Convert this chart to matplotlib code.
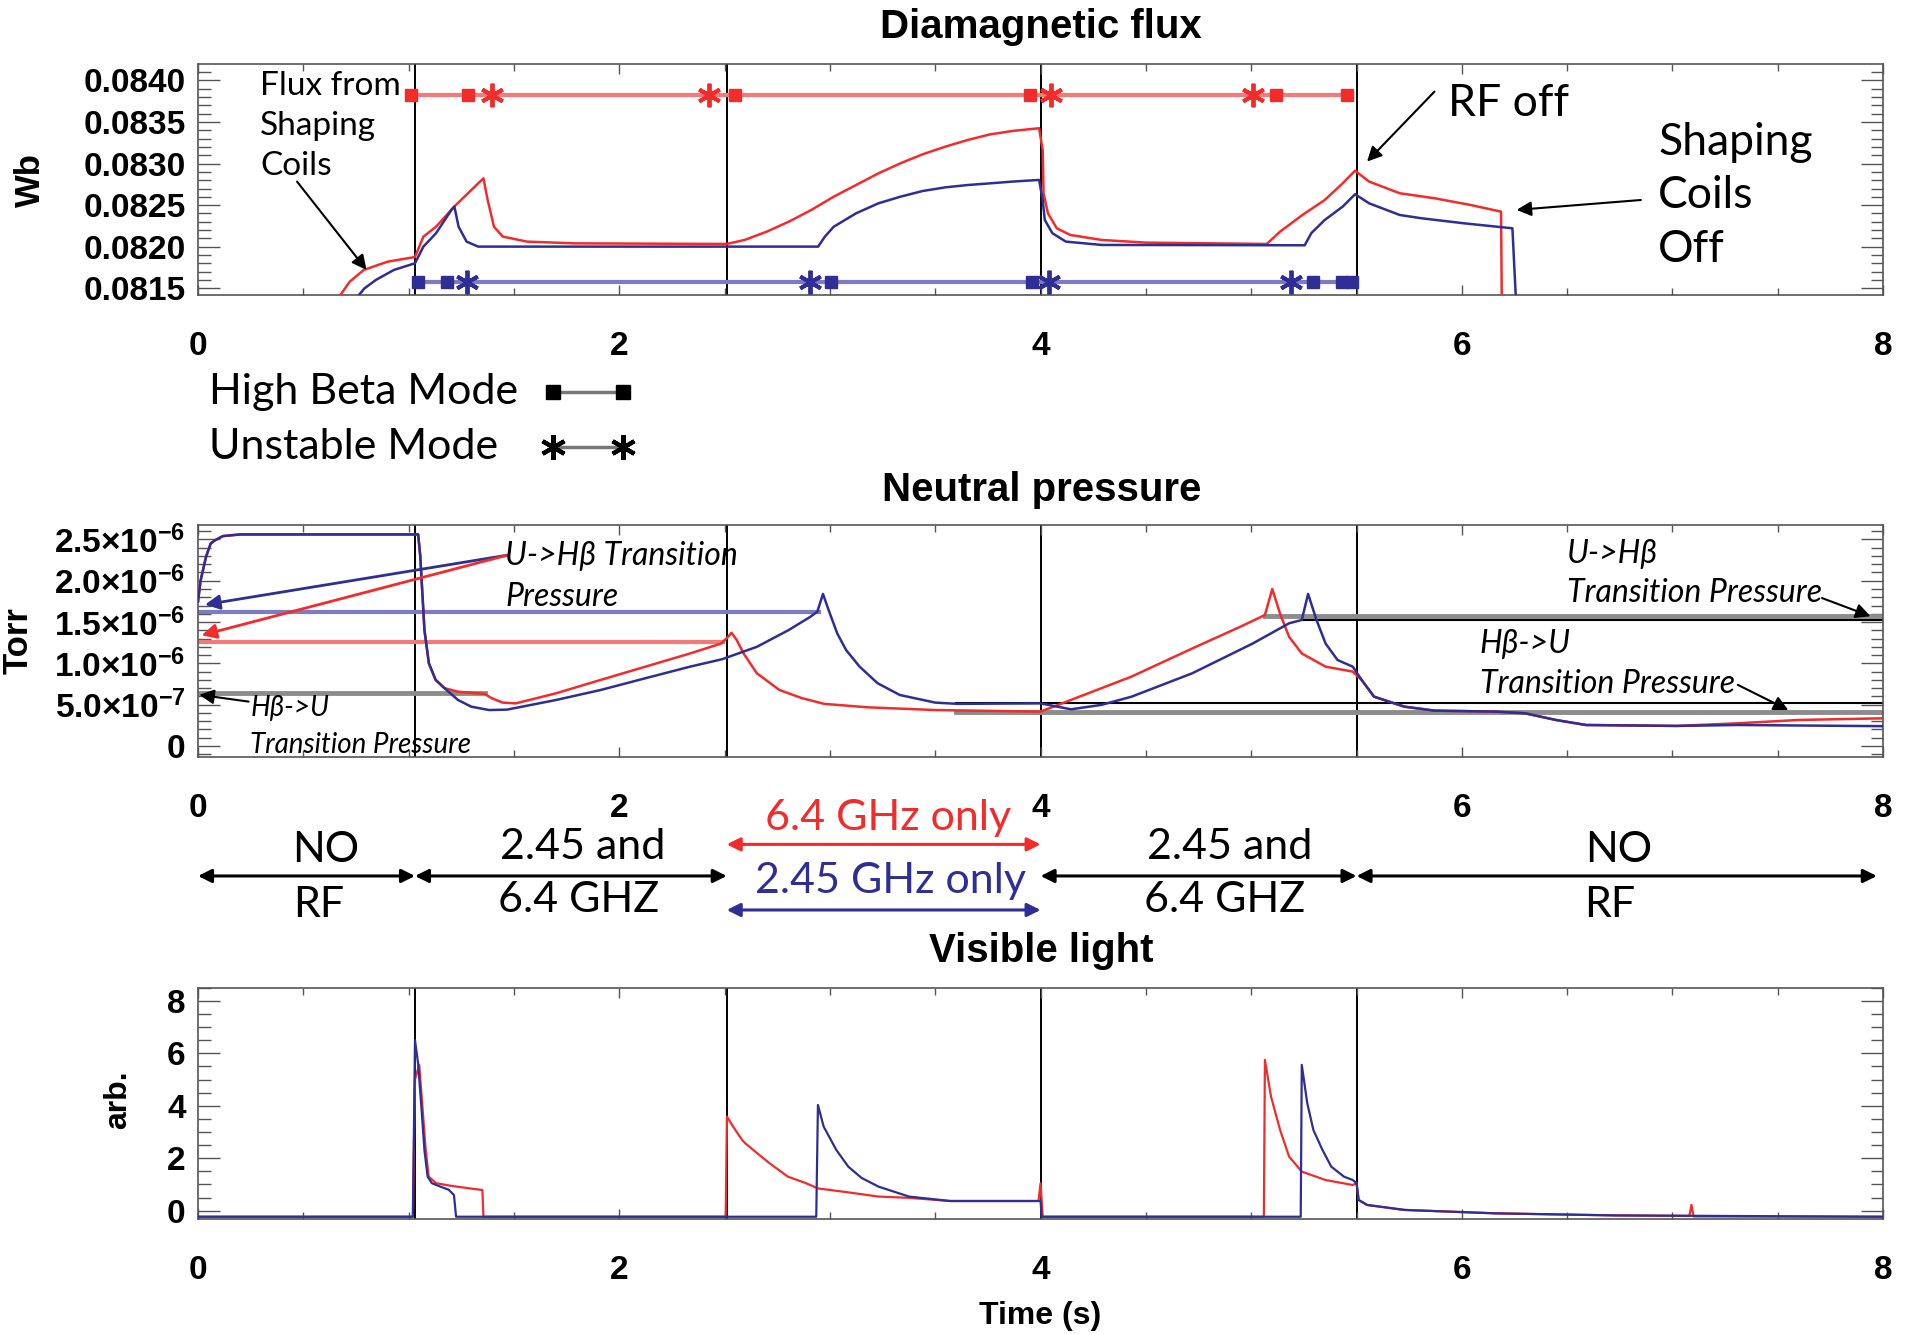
import numpy as np
import matplotlib
matplotlib.use('Agg')
import matplotlib.pyplot as plt
from matplotlib.lines import Line2D
from matplotlib.ticker import MultipleLocator

plt.rcParams['font.family'] = ['Liberation Sans', 'DejaVu Sans']
plt.rcParams['mathtext.fontset'] = 'custom'
plt.rcParams['mathtext.rm'] = 'Liberation Sans:bold'
plt.rcParams['mathtext.default'] = 'rm'

RED = '#f22b2b'
BLUE = '#2e2e96'
FRAME = '#555555'
NOTE_FONT = ['Lato', 'DejaVu Sans']

# RF switching times (s)
rf_switch = [1.03, 2.51, 4.0, 5.5]

# diamagnetic flux (Wb)
flux_red_t = [0.60, 0.67, 0.72, 0.787, 0.90, 1.03, 1.07, 1.13, 1.217, 1.33, 1.355, 1.375, 1.405,
              1.447, 1.562, 1.79, 2.51, 2.595, 2.70, 2.806, 2.912, 3.018, 3.124, 3.23, 3.335, 3.44,
              3.548, 3.654, 3.76, 3.866, 3.993, 4.01, 4.014, 4.035, 4.077, 4.141, 4.29, 4.50,
              5.074, 5.137, 5.243, 5.349, 5.434, 5.493, 5.56, 5.705, 5.87, 6.04, 6.186, 6.19]
flux_red = [0.08125, 0.08140, 0.08158, 0.081722, 0.081821, 0.081877, 0.082122, 0.082241, 0.082484,
            0.082762, 0.082822, 0.082562, 0.082241, 0.082122, 0.082062, 0.082041, 0.082034,
            0.082082, 0.082182, 0.082303, 0.082443, 0.082602, 0.082742, 0.082882, 0.083003,
            0.083111, 0.083203, 0.083283, 0.08335, 0.083391, 0.083424, 0.083162, 0.082643,
            0.082402, 0.082222, 0.082142, 0.082082, 0.08205, 0.082034, 0.082182, 0.082382,
            0.082562, 0.082762, 0.082914, 0.082783, 0.082643, 0.082583, 0.082503, 0.082422, 0.08120]
flux_blue_t = [0.70, 0.757, 0.79, 0.844, 0.93, 1.03, 1.07, 1.13, 1.203, 1.217, 1.237, 1.275, 1.33,
               2.944, 2.976, 3.018, 3.124, 3.23, 3.335, 3.44, 3.548, 3.654, 3.76, 3.866, 3.993,
               4.01, 4.02, 4.056, 4.12, 4.29, 5.254, 5.285, 5.349, 5.434, 5.493, 5.56, 5.705,
               5.81, 6.01, 6.24, 6.26]
flux_blue = [0.08125, 0.08140, 0.08150, 0.081601, 0.081722, 0.081802, 0.082002, 0.082163, 0.082443,
             0.082484, 0.082241, 0.082062, 0.082002, 0.082002, 0.082122, 0.082241, 0.082402,
             0.082522, 0.082602, 0.08267, 0.082714, 0.082742, 0.082762, 0.082783, 0.082803,
             0.082562, 0.082322, 0.082163, 0.082062, 0.082022, 0.082018, 0.082163, 0.082322,
             0.082482, 0.082631, 0.082522, 0.082382, 0.082342, 0.082282, 0.082222, 0.08120]

# mode markers on the flux plot
mode_red_level = 0.083823
mode_blue_level = 0.081582
hibeta_red_t = [1.01, 1.284, 2.547, 3.95, 5.12, 5.453]
unstable_red_t = [1.396, 2.426, 4.05, 5.007]
hibeta_blue_t = [1.045, 1.18, 3.007, 3.96, 5.295, 5.43, 5.48]
unstable_blue_t = [1.275, 2.905, 4.04, 5.19]

# neutral pressure (1e-6 Torr)
press_red_t = [0.0, 0.012, 0.038, 0.06, 0.081, 0.118, 0.2, 1.045, 1.055, 1.075, 1.096, 1.128, 1.17,
               1.234, 1.361, 1.393, 1.446, 1.509, 1.70, 1.912, 2.124, 2.336, 2.484, 2.516, 2.533,
               2.558, 2.59, 2.653, 2.76, 2.866, 2.972, 3.18, 3.50, 4.0, 4.144, 4.432, 4.72, 4.95,
               5.065, 5.10, 5.137, 5.18, 5.24, 5.353, 5.482, 5.524, 5.583, 5.727, 5.87, 6.158,
               6.30, 6.446, 6.59, 7.02, 7.31, 7.60, 8.0]
press_red = [1.75, 2.0, 2.29, 2.45, 2.49, 2.54, 2.56, 2.56, 2.3, 1.40, 1.0, 0.80, 0.70, 0.657, 0.63,
             0.58, 0.525, 0.516, 0.638, 0.80, 0.96, 1.12, 1.24, 1.32, 1.37, 1.28, 1.12, 0.88,
             0.678, 0.58, 0.51, 0.468, 0.435, 0.416, 0.557, 0.84, 1.18, 1.445, 1.585, 1.90, 1.60,
             1.32, 1.12, 0.96, 0.90, 0.80, 0.597, 0.476, 0.428, 0.416, 0.396, 0.315, 0.254,
             0.243, 0.275, 0.315, 0.335]
press_blue_t = [0.0, 0.012, 0.038, 0.06, 0.081, 0.118, 0.2, 1.045, 1.055, 1.075, 1.096, 1.128, 1.17,
                1.234, 1.297, 1.382, 1.467, 1.70, 1.912, 2.124, 2.336, 2.488, 2.653, 2.802, 2.908,
                2.94, 2.967, 2.993, 3.035, 3.077, 3.141, 3.226, 3.332, 3.50, 3.607, 4.0, 4.144,
                4.288, 4.432, 4.72, 5.007, 5.18, 5.24, 5.27, 5.31, 5.353, 5.41, 5.482, 5.524,
                5.583, 5.727, 5.87, 6.158, 6.30, 6.446, 6.59, 7.02, 7.31, 8.0]
press_blue = [1.75, 2.0, 2.29, 2.45, 2.49, 2.54, 2.56, 2.56, 2.3, 1.40, 1.0, 0.80, 0.70, 0.557,
              0.476, 0.435, 0.44, 0.557, 0.678, 0.82, 0.96, 1.05, 1.20, 1.40, 1.565, 1.626, 1.84,
              1.65, 1.36, 1.16, 0.96, 0.76, 0.617, 0.525, 0.51, 0.516, 0.444, 0.497, 0.597, 0.88,
              1.24, 1.485, 1.525, 1.84, 1.525, 1.24, 1.04, 0.96, 0.80, 0.597, 0.476, 0.428, 0.416,
              0.396, 0.315, 0.254, 0.243, 0.254, 0.24]

# transition pressure levels (1e-6 Torr) and their time spans
trans_level = [1.62, 1.263, 0.645, 1.574, 1.525, 0.516, 0.416]
trans_start = [0.0, 0.0, 0.0, 5.065, 5.24, 3.6, 3.6]
trans_end = [2.95, 2.49, 1.362, 8.0, 8.0, 8.0, 8.0]

# visible light (arb.)
light_red_t = [0.0, 1.02, 1.03, 1.05, 1.065, 1.08, 1.095, 1.13, 1.2, 1.3, 1.35, 1.355, 2.505, 2.511,
               2.54, 2.583, 2.598, 2.655, 2.713, 2.80, 2.886, 2.943, 3.087, 3.23, 3.375, 3.57, 3.99,
               4.0, 4.01, 5.06, 5.065, 5.094, 5.137, 5.18, 5.24, 5.353, 5.482, 5.50, 5.51, 5.55,
               5.727, 6.158, 6.734, 7.08, 7.09, 7.10, 8.0]
light_red = [-0.23, -0.23, 5.0, 5.56, 4.0, 2.4, 1.3, 1.05, 0.95, 0.84, 0.79, -0.23, -0.23, 3.59,
             3.21, 2.70, 2.57, 2.19, 1.81, 1.30, 1.05, 0.85, 0.70, 0.54, 0.49, 0.37, 0.37, 1.05,
             -0.23, -0.23, 5.75, 4.35, 3.08, 2.06, 1.49, 1.17, 0.98, 1.05, 0.41, 0.22, 0.03,
             -0.10, -0.18, -0.20, 0.22, -0.22, -0.23]
light_blue_t = [0.0, 1.02, 1.03, 1.045, 1.06, 1.075, 1.09, 1.11, 1.15, 1.19, 1.215, 1.225, 2.935,
                2.943, 2.97, 3.03, 3.087, 3.15, 3.23, 3.375, 3.57, 4.0, 4.005, 5.235, 5.24, 5.266,
                5.295, 5.338, 5.38, 5.44, 5.482, 5.50, 5.51, 5.55, 5.727, 6.158, 6.734, 8.0]
light_blue = [-0.23, -0.23, 6.5, 5.6, 4.0, 2.3, 1.3, 1.05, 0.92, 0.80, 0.6, -0.23, -0.23, 4.03,
              3.21, 2.32, 1.68, 1.25, 0.92, 0.54, 0.37, 0.37, -0.23, -0.23, 5.56, 4.10, 3.08,
              2.32, 1.68, 1.30, 1.17, 1.05, 0.41, 0.22, 0.03, -0.10, -0.18, -0.23]

x_ticks = [0, 2, 4, 6, 8]
flux_ticks = [0.0815, 0.0820, 0.0825, 0.0830, 0.0835, 0.0840]
press_ticks = [0, 0.5e-6, 1.0e-6, 1.5e-6, 2.0e-6, 2.5e-6]
press_labels = ['0', r'5.0$\times$10$^{-7}$', r'1.0$\times$10$^{-6}$', r'1.5$\times$10$^{-6}$',
                r'2.0$\times$10$^{-6}$', r'2.5$\times$10$^{-6}$']
light_ticks = [0, 2, 4, 6, 8]

W, H = 1568, 1098   # layout grid used for placing things on the page


def fx(x):
    return x / W


def fy(y):
    return 1 - y / H


def note(x, y, s, size, color='k', style='normal', ha='left'):
    fig.text(fx(x), fy(y), s, fontsize=size, family=NOTE_FONT, color=color,
             style=style, ha=ha, va='center', fontweight='normal')


def style_axes(ax, yticks, ylabels, yminor):
    ax.set_xlim(0, 8)
    ax.set_xticks(x_ticks, labels=[str(v) for v in x_ticks], fontweight='bold', fontsize=24)
    ax.xaxis.set_minor_locator(MultipleLocator(0.5))
    ax.set_yticks(yticks, labels=ylabels, fontweight='bold', fontsize=24)
    ax.yaxis.set_minor_locator(MultipleLocator(yminor))
    ax.tick_params(which='both', direction='in', top=True, right=True, color=FRAME, width=1)
    ax.tick_params(axis='x', which='major', length=7, pad=26)
    ax.tick_params(axis='x', which='minor', length=5)
    ax.tick_params(axis='y', which='major', length=16, pad=9)
    ax.tick_params(axis='y', which='minor', length=9)
    for sp in ax.spines.values():
        sp.set_color(FRAME)
        sp.set_linewidth(1.2)
    for t in rf_switch:
        ax.axvline(t, color='k', lw=1.4, zorder=1)


fig = plt.figure(figsize=(19.05, 13.34), dpi=100)
ax1 = fig.add_axes([fx(163), fy(243), (1550 - 163) / W, 190 / H])
ax2 = fig.add_axes([fx(163), fy(623), (1550 - 163) / W, 191 / H])
ax3 = fig.add_axes([fx(163), fy(1003), (1550 - 163) / W, 190 / H])

# --- diamagnetic flux ---
ax1.set_ylim(0.081418, 0.084191)
style_axes(ax1, flux_ticks, ['%.4f' % v for v in flux_ticks], 0.0001)
ax1.plot(flux_red_t, flux_red, color=RED, lw=1.8, zorder=3)
ax1.plot(flux_blue_t, flux_blue, color=BLUE, lw=1.8, zorder=3)

red_span = [min(hibeta_red_t + unstable_red_t), max(hibeta_red_t + unstable_red_t)]
blue_span = [min(hibeta_blue_t + unstable_blue_t), max(hibeta_blue_t + unstable_blue_t)]
ax1.plot(red_span, [mode_red_level] * 2, color='#f77a7a', lw=3, zorder=2)
ax1.plot(blue_span, [mode_blue_level] * 2, color='#7c7cc4', lw=3, zorder=2)
ax1.plot(hibeta_red_t, [mode_red_level] * len(hibeta_red_t), 's', color=RED, ms=9, zorder=4)
ax1.plot(unstable_red_t, [mode_red_level] * len(unstable_red_t), ls='none', marker=(6, 2, 0),
         color=RED, ms=17, mew=2.8, zorder=4)
ax1.plot(hibeta_blue_t, [mode_blue_level] * len(hibeta_blue_t), 's', color=BLUE, ms=9, zorder=4)
ax1.plot(unstable_blue_t, [mode_blue_level] * len(unstable_blue_t), ls='none', marker=(6, 2, 0),
         color=BLUE, ms=17, mew=2.8, zorder=4)

arrow_kw = dict(arrowstyle='-|>', color='k', lw=1.5, mutation_scale=22, shrinkA=0, shrinkB=0)
ax1.annotate('', xy=(0.80, 0.081722), xytext=(0.47, 0.082783), arrowprops=arrow_kw)
ax1.annotate('', xy=(5.55, 0.083024), xytext=(5.87, 0.083864), arrowprops=arrow_kw)
ax1.annotate('', xy=(6.26, 0.082443), xytext=(6.85, 0.082562), arrowprops=arrow_kw)

note(214, 71, 'Flux from', 24)
note(214, 104, 'Shaping', 24)
note(214, 137, 'Coils', 24)
note(1192, 85, 'RF off', 32)
note(1365, 117, 'Shaping', 32)
note(1365, 161, 'Coils', 32)
note(1365, 205, 'Off', 32)

# legend for the mode markers
note(172, 323, 'High Beta Mode', 31)
note(172, 368, 'Unstable Mode', 31)
fig.add_artist(Line2D([fx(455), fx(513)], [fy(323)] * 2, transform=fig.transFigure,
                      color='#777777', lw=2.5, marker='s', ms=10, mfc='k', mec='k'))
fig.add_artist(Line2D([fx(455), fx(513)], [fy(368)] * 2, transform=fig.transFigure,
                      color='#777777', lw=2.5, marker=(6, 2, 0), ms=18, mew=3, mfc='k', mec='k'))

# --- neutral pressure ---
ax2.set_ylim(-0.132e-6, 2.676e-6)
style_axes(ax2, press_ticks, press_labels, 0.1e-6)
trans_colors = ['#7c7cc4', '#f47a7a', '#8c8c8c', '#8c8c8c', 'k', 'k', '#8c8c8c']
trans_widths = [3, 3, 3.5, 3.5, 1.5, 1.5, 3.5]
for lev, t0, t1, c, w in zip(trans_level, trans_start, trans_end, trans_colors, trans_widths):
    ax2.plot([t0, t1], [lev * 1e-6] * 2, color=c, lw=w, zorder=2)
ax2.plot(press_red_t, np.array(press_red) * 1e-6, color=RED, lw=1.8, zorder=3)
ax2.plot(press_blue_t, np.array(press_blue) * 1e-6, color=BLUE, lw=1.8, zorder=3)

ax2.annotate('', xy=(0.033, 1.71e-6), xytext=(1.47, 2.31e-6),
             arrowprops=dict(arrow_kw, color=BLUE, lw=2))
ax2.annotate('', xy=(0.017, 1.34e-6), xytext=(1.47, 2.31e-6),
             arrowprops=dict(arrow_kw, color=RED, lw=2))
ax2.annotate('', xy=(0.006, 0.62e-6), xytext=(0.24, 0.537e-6), arrowprops=arrow_kw)
ax2.annotate('', xy=(7.94, 1.57e-6), xytext=(7.71, 1.79e-6), arrowprops=arrow_kw,
             annotation_clip=False)
ax2.annotate('', xy=(7.55, 0.435e-6), xytext=(7.31, 0.74e-6), arrowprops=arrow_kw)

note(416, 458, 'U->H\u03b2 Transition', 23, style='italic')
note(416, 491, 'Pressure', 23, style='italic')
note(206, 583, 'H\u03b2->U', 20, style='italic')
note(206, 613, 'Transition Pressure', 20, style='italic')
note(1290, 456, 'U->H\u03b2', 23, style='italic')
note(1290, 488, 'Transition Pressure', 23, style='italic')
note(1218, 530, 'H\u03b2->U', 23, style='italic')
note(1218, 563, 'Transition Pressure', 23, style='italic')

# RF source bands between the pressure and light plots
band_kw = dict(arrowstyle='<|-|>', lw=2.2, mutation_scale=20, shrinkA=0, shrinkB=0)
black_bands = [(0.0, rf_switch[0]), (rf_switch[0], rf_switch[1]),
               (rf_switch[2], rf_switch[3]), (rf_switch[3], 7.97)]
for t0, t1 in black_bands:
    ax2.annotate('', xy=(t1, fy(721)), xycoords=('data', 'figure fraction'),
                 xytext=(t0, fy(721)), textcoords=('data', 'figure fraction'),
                 arrowprops=dict(band_kw, color='k'), annotation_clip=False)
for yb, c in [(695, RED), (749, BLUE)]:
    ax2.annotate('', xy=(rf_switch[2], fy(yb)), xycoords=('data', 'figure fraction'),
                 xytext=(rf_switch[1], fy(yb)), textcoords=('data', 'figure fraction'),
                 arrowprops=dict(band_kw, color=c), annotation_clip=False)

note(731, 673, '6.4 GHz only', 31, color=RED, ha='center')
note(733, 725, '2.45 GHz only', 31, color=BLUE, ha='center')
note(268, 700, 'NO', 31, ha='center')
note(262, 745, 'RF', 31, ha='center')
note(480, 697, '2.45 and', 31, ha='center')
note(476, 741, '6.4 GHZ', 31, ha='center')
note(1012, 697, '2.45 and', 31, ha='center')
note(1008, 741, '6.4 GHZ', 31, ha='center')
note(1332, 700, 'NO', 31, ha='center')
note(1325, 745, 'RF', 31, ha='center')

# --- visible light ---
ax3.set_ylim(-0.3, 8.5)
style_axes(ax3, light_ticks, [str(v) for v in light_ticks], 0.5)
ax3.plot(light_red_t, light_red, color=RED, lw=1.6, zorder=3)
ax3.plot(light_blue_t, light_blue, color=BLUE, lw=1.6, zorder=3)

# titles and axis labels
for y, s in [(22, 'Diamagnetic flux'), (403, 'Neutral pressure'), (783, 'Visible light')]:
    fig.text(fx(857), fy(y), s, fontsize=29, fontweight='bold', ha='center', va='center')
fig.text(fx(856), fy(1083), 'Time (s)', fontsize=23, fontweight='bold', ha='center', va='center')
fig.text(fx(25), fy(148), 'Wb', fontsize=25, fontweight='bold', rotation=90, ha='center', va='center')
fig.text(0.001, fy(527), 'Torr', fontsize=25, fontweight='bold', rotation=90, ha='left', va='center')
fig.text(fx(97), fy(905), 'arb.', fontsize=23, fontweight='bold', rotation=90, ha='center', va='center')

fig.savefig('out.png', dpi=100, facecolor='white')
